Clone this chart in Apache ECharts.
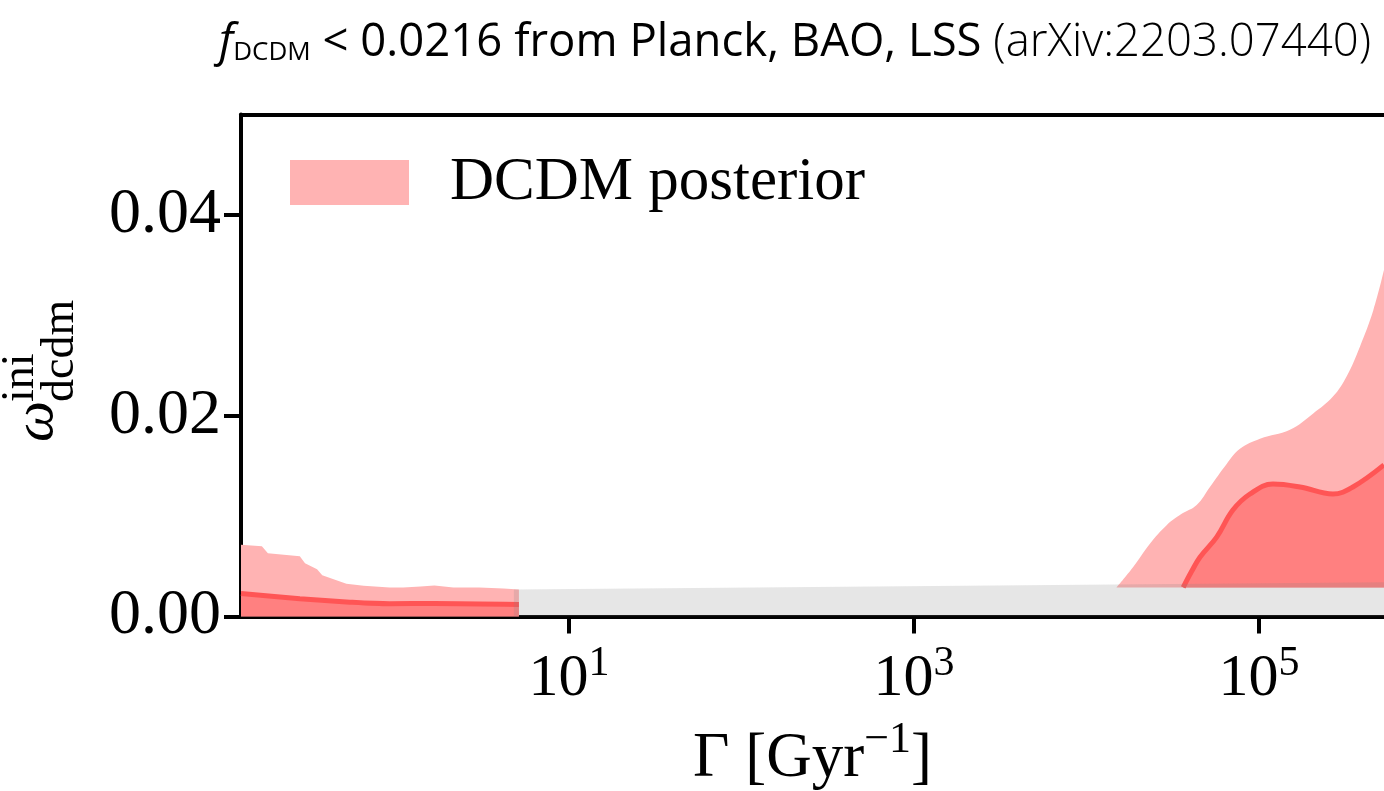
<!DOCTYPE html>
<html><head><meta charset="utf-8">
<script src="https://cdn.jsdelivr.net/npm/echarts@6/dist/echarts.min.js"></script>
<style>html,body{margin:0;padding:0;background:#fff}#c{width:1384px;height:791px}</style>
</head><body><div id="c"></div>
<script>
// x values are log10(Gamma / Gyr^-1)
const xTickExps = [1, 3, 5];
const yTickVals = [0, 0.02, 0.04];

const leftOuterX = [-0.901, -0.78, -0.745, -0.56, -0.53, -0.46, -0.43, -0.29, -0.19, -0.04, 0.04, 0.14, 0.22, 0.33, 0.48, 0.62, 0.71];
const leftOuterY = [0.00715, 0.0070, 0.0063, 0.0060, 0.0053, 0.0047, 0.0041, 0.00326, 0.00306, 0.0029, 0.0029, 0.0030, 0.0031, 0.0029, 0.0029, 0.0028, 0.0027];

const leftInnerX = [-0.901, -0.56, -0.27, -0.04, 0.22, 0.71];
const leftInnerY = [0.0023, 0.00177, 0.00143, 0.00127, 0.0013, 0.0012];

const rightOuterX = [4.175, 4.27, 4.368, 4.465, 4.55, 4.639, 4.716, 4.813, 4.89, 5.006, 5.18, 5.313, 5.429, 5.508, 5.586, 5.663, 5.725];
const rightOuterY = [0.0029, 0.0049, 0.00725, 0.0091, 0.0102, 0.0111, 0.0129, 0.0152, 0.0167, 0.0177, 0.0186, 0.0202, 0.0219, 0.0239, 0.0269, 0.0305, 0.0345];

const rightInnerX = [4.561, 4.61, 4.658, 4.755, 4.849, 4.948, 5.081, 5.238, 5.429, 5.545, 5.725];
const rightInnerY = [0.0029, 0.0045, 0.0059, 0.0079, 0.0106, 0.0122, 0.0132, 0.0129, 0.0122, 0.0129, 0.0151];

const greyX = [0.681, 5.725];
const greyTop = [0.0027, 0.0034];

const regionFloor = 0.0029;

function pts(xs, ys) { return xs.map((x, i) => [x, ys[i]]); }

const SERIF = 'Liberation Serif';
const chart = echarts.init(document.getElementById('c'), null, {renderer: 'canvas'});
const xMin = -0.901, xMax = 5.725;

chart.setOption({
  animation: false,
  backgroundColor: '#fff',
  title: {
    left: 214, top: 15,
    text: '{f|f}{sub|DCDM}{n| < 0.0216 from Planck, BAO, LSS }{l|(arXiv:2203.07440)}',
    textStyle: {
      rich: {
        f: {fontFamily: 'Open Sans', fontStyle: 'italic', fontWeight: 500, fontSize: 45.5, color: '#000', verticalAlign: 'bottom'},
        sub: {fontFamily: 'Open Sans', fontWeight: 500, fontSize: 26, color: '#000', verticalAlign: 'bottom', padding: [0, 0, 0, 0]},
        n: {fontFamily: 'Open Sans', fontWeight: 500, fontSize: 45.5, color: '#000', verticalAlign: 'bottom'},
        l: {fontFamily: 'Open Sans', fontWeight: 300, fontSize: 45.5, color: '#000', verticalAlign: 'bottom'}
      }
    }
  },
  legend: {
    left: 290, top: 152, padding: 0,
    itemWidth: 119, itemHeight: 45,
    data: [{name: 'DCDM posterior', icon: 'rect', itemStyle: {color: '#ffb3b3', borderWidth: 0}}],
    textStyle: {fontFamily: SERIF, fontSize: 61, color: '#000', padding: [0, 0, 0, 36]},
    selectedMode: false
  },
  grid: {left: 241, right: 0, top: 114.5, bottom: 174.5, containLabel: false, outerBoundsMode: 'none'},
  xAxis: [{
    type: 'value', min: xMin, max: xMax, position: 'bottom',
    axisLine: {show: true, onZero: false, lineStyle: {color: '#000', width: 4}},
    axisTick: {show: true, customValues: xTickExps, length: 17, lineStyle: {color: '#000', width: 4}},
    axisLabel: {
      customValues: xTickExps, margin: 26,
      formatter: v => '{b|10}{s|' + v + '}',
      rich: {
        b: {fontFamily: SERIF, fontSize: 60, color: '#000', verticalAlign: 'bottom'},
        s: {fontFamily: SERIF, fontSize: 42, color: '#000', verticalAlign: 'bottom', padding: [0, 0, 25, 0]}
      }
    },
    splitLine: {show: false},
    name: '{n|Γ [Gyr}{s|−1}{n|]}',
    nameLocation: 'middle', nameGap: 102,
    nameTextStyle: {
      rich: {
        n: {fontFamily: SERIF, fontSize: 63, color: '#000', verticalAlign: 'bottom'},
        s: {fontFamily: SERIF, fontSize: 44, color: '#000', verticalAlign: 'bottom', padding: [0, 0, 28, 0]}
      }
    }
  }, {
    type: 'value', min: xMin, max: xMax, position: 'top',
    axisLine: {show: true, onZero: false, lineStyle: {color: '#000', width: 4}},
    axisTick: {show: false}, axisLabel: {show: false}, splitLine: {show: false}
  }],
  yAxis: {
    type: 'value', min: 0, max: 0.05,
    axisLine: {show: true, onZero: false, lineStyle: {color: '#000', width: 4}},
    axisTick: {show: true, customValues: yTickVals, length: 17, lineStyle: {color: '#000', width: 4}},
    axisLabel: {customValues: yTickVals, formatter: v => v.toFixed(2), fontFamily: SERIF, fontSize: 64, color: '#000', margin: 20},
    splitLine: {show: false}
  },
  graphic: [{
    type: 'group', x: 66, y: 442, rotation: Math.PI / 2,
    children: [
      {type: 'text', x: 0, y: 0, style: {text: 'ω', font: 'italic 58px "Liberation Serif"', fill: '#000', verticalAlign: 'bottom'}},
      {type: 'text', x: 40, y: -22, style: {text: 'ini', font: '46px "Liberation Serif"', fill: '#000', verticalAlign: 'bottom'}},
      {type: 'text', x: 40, y: 18, style: {text: 'dcdm', font: '46px "Liberation Serif"', fill: '#000', verticalAlign: 'bottom'}}
    ]
  }],
  series: [
    {type: 'line', name: 'DCDM posterior', data: pts(leftOuterX, leftOuterY), smooth: false, symbol: 'none', z: 1,
      itemStyle: {color: '#ffb3b3'}, lineStyle: {width: 0, opacity: 0}, areaStyle: {color: '#ffb3b3', opacity: 1, origin: 0}},
    {type: 'line', name: 'DCDM posterior', data: pts(rightOuterX, rightOuterY), smooth: 0.4, symbol: 'none', z: 1,
      itemStyle: {color: '#ffb3b3'}, lineStyle: {width: 0, opacity: 0}, areaStyle: {color: '#ffb3b3', opacity: 1, origin: regionFloor}},
    {type: 'line', name: 'inner-left', data: pts(leftInnerX, leftInnerY), smooth: 0.3, symbol: 'none', z: 2,
      lineStyle: {width: 5, color: '#ff5555'}, areaStyle: {color: '#ff8080', opacity: 1, origin: 0}},
    {type: 'line', name: 'inner-right', data: pts(rightInnerX, rightInnerY), smooth: 0.4, symbol: 'none', z: 2,
      lineStyle: {width: 5, color: '#ff5555'}, areaStyle: {color: '#ff8080', opacity: 1, origin: regionFloor}},
    {type: 'line', name: 'grey', data: pts(greyX, greyTop), smooth: false, symbol: 'none', z: 3,
      lineStyle: {width: 0, opacity: 0}, areaStyle: {color: 'rgba(128,128,128,0.2)', opacity: 1, origin: 0}}
  ]
});
</script>
</body></html>
